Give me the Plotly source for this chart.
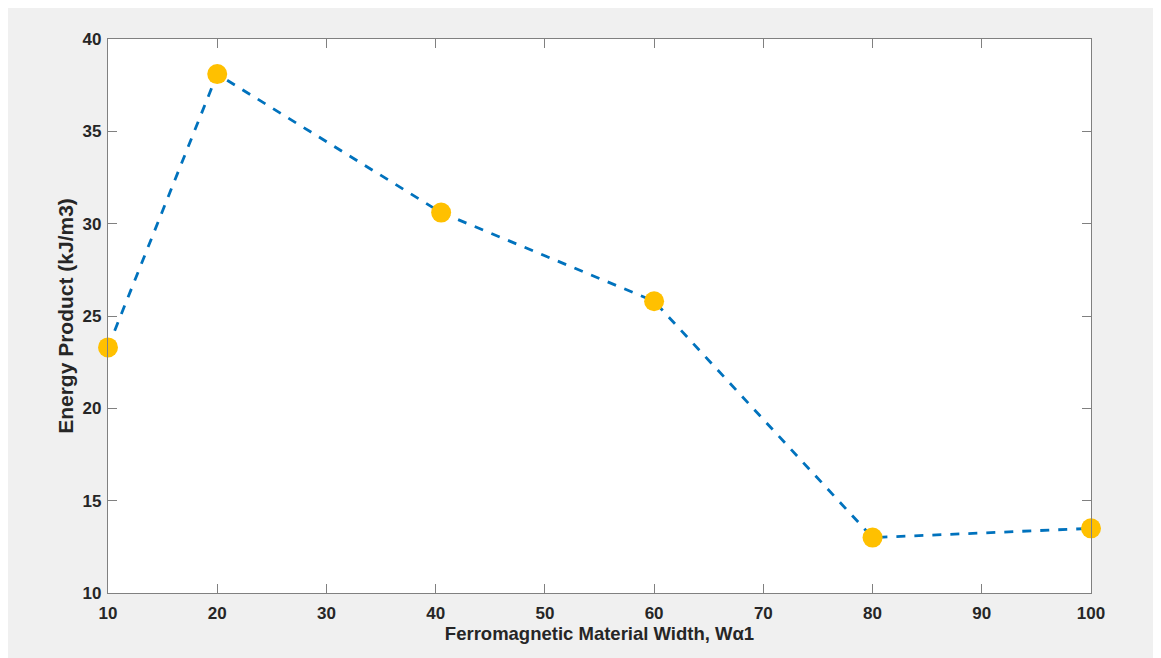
import plotly.graph_objects as go

width_vals = [10, 20, 40.5, 60, 80, 100]
energy_vals = [23.3, 38.1, 30.6, 25.8, 13.0, 13.5]
x_ticks = [10, 20, 30, 40, 50, 60, 70, 80, 90, 100]
y_ticks = [10, 15, 20, 25, 30, 35, 40]

FONT = "Liberation Sans, Arial"
fig = go.Figure()
fig.add_trace(go.Scatter(
    x=width_vals, y=energy_vals, mode="lines",
    line=dict(color="#0072BD", width=2.8, dash="dash"),
    showlegend=False, cliponaxis=False))
fig.add_trace(go.Scatter(
    x=width_vals, y=energy_vals, mode="markers",
    marker=dict(color="#FFC000", size=20, line=dict(width=0)),
    showlegend=False, cliponaxis=False))

axis_common = dict(
    showgrid=False, zeroline=False, showline=True, linecolor="#808080", linewidth=1.3,
    mirror="ticks", ticks="inside", ticklen=9, tickcolor="#808080", tickwidth=1.3,
    tickfont=dict(family=FONT, size=17, color="#262626", weight="bold"),
)
fig.update_xaxes(range=[10, 100], tickvals=x_ticks, ticklabelstandoff=4, **axis_common,
                 title=dict(text="Ferromagnetic Material Width, Wα1",
                            font=dict(family=FONT, size=18.5, color="#262626", weight="bold"),
                            standoff=4))
fig.update_yaxes(range=[10, 40], tickvals=y_ticks, ticklabelstandoff=2, **axis_common,
                 title=dict(text="Energy Product (kJ/m3)",
                            font=dict(family=FONT, size=21, color="#262626", weight="bold"),
                            standoff=3))
fig.update_layout(
    width=1161, height=658,
    margin=dict(l=100, r=78, t=31, b=73),
    paper_bgcolor="#f0f0f0", plot_bgcolor="#ffffff",
)
fig.write_html("out.html")
